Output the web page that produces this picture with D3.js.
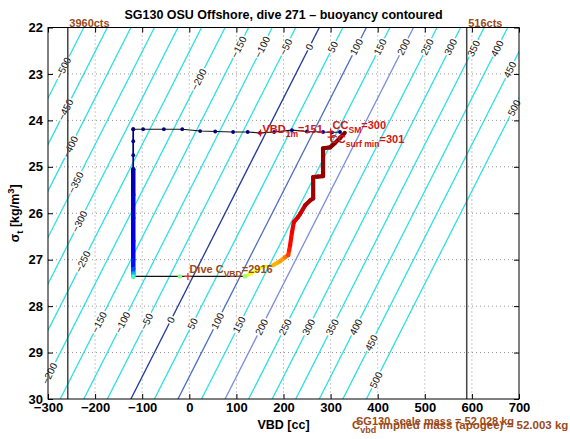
<!DOCTYPE html>
<html><head><meta charset="utf-8">
<script src="https://cdn.jsdelivr.net/npm/d3@7"></script>
<style>
body{margin:0;background:#fff;}
svg{display:block;}
text{font-family:"Liberation Sans",Arial,Helvetica,sans-serif;}
</style>
</head><body>
<svg id="c" width="570" height="439"></svg>
<script>
// ---------------- data ----------------
const vbdTicks = [-300,-200,-100,0,100,200,300,400,500,600,700];
const sigmaTicks = [22,23,24,25,26,27,28,29,30];
const contourLevels = [-500,-450,-400,-350,-300,-250,-200,-150,-100,-50,0,50,100,150,200,250,300,350,400,450,500];
const highlightLevels = [0,100,200];
// buoyancy contour model: VBD on contour b at sigma s = b + contourOffset - contourSlope*(s-22)
const contourOffset = 276;
const contourSlope = 50;
// contour label placement (level, sigma)
const labelLevels = [-150,-100,-50,0,50,100,150,200,250,300,350,400,
                     -500,-450,-400,-350,-300,-250,-200,450,500,
                     -150,-100,-50,0,50,100,150,200,250,300,350,400,450,500,-200];
const labelSigmas = [22.42,22.42,22.42,22.42,22.42,22.42,22.42,22.42,22.42,22.42,22.45,22.45,
                     22.87,23.77,24.57,25.34,26.18,27.04,23.12,22.91,23.73,
                     28.35,28.35,28.33,28.3,28.38,28.32,28.4,28.45,28.45,28.45,28.45,28.45,28.79,29.59,29.45];
// VBD limit lines
const limitVBD = [-258, 589];
const limitLabels = ["3960cts","516cts"];
// surface bleed segment (navy dots)
const surfVBD   = [320,303,284,250,218,180,150,124,93,55,23,-15,-54,-98,-119];
const surfSigma = [24.25,24.26,24.25,24.24,24.21,24.25,24.27,24.25,24.25,24.24,24.23,24.19,24.19,24.19,24.19];
// descent at constant VBD
const descVBD   = [-119,-119,-119,-119,-119,-119,-119,-119,-119,-119,-119];
const descSigma = [24.19,24.45,24.75,25.05,25.6,26.1,26.6,27.0,27.2,27.3,27.36];
const descT     = [0.0,0.01,0.02,0.03,0.05,0.08,0.1,0.12,0.14,0.2,0.3];
// apogee pump
const apoVBD   = [-119,-20,118];
const apoSigma = [27.36,27.36,27.36];
const apoT     = [0.45,0.5,0.52];
// ascent
const ascVBD   = [118,133,150,163,178,193,203,210,212,214,218,222,231,235,246,257,263,263,273,284,284,299,309,320,330];
const ascSigma = [27.36,27.29,27.18,27.14,27.12,27.03,26.95,26.90,26.80,26.69,26.41,26.19,26.08,26.02,25.83,25.72,25.68,25.22,25.21,25.20,24.60,24.58,24.49,24.38,24.27];
const ascT     = [0.6,0.62,0.64,null,0.7,0.72,0.76,0.82,0.85,0.87,0.89,0.9,0.92,0.93,0.95,0.96,0.97,0.97,0.98,0.98,0.99,0.99,1.0,1.0,1.0];
// markers and annotations
const markVBD   = [151,300,301,-3];
const markSigma = [24.27,24.25,24.36,27.36];
const annVBD    = [152,301,295,-3];
const annSigma  = [24.27,24.19,24.49,27.29];
const annMain   = ["VBD","CC","CC","Dive C"];
const annSub    = ["1m","SM","surf min","VBD"];
const annTail   = ["=151","=300","=301","=2916"];
const annKind   = ["red","red","red","brown"];
const titleText = "SG130 OSU Offshore, dive 271 \u2013 buoyancy contoured";
const massLine1 = "SG130 scale mass = 52.028 kg";
const massLine2Main = "C", massLine2Sub = "vbd", massLine2Tail = " implied mass (apogee) = 52.003 kg";

// ---------------- layout ----------------
const W = 570, H = 439;
const L = 48, R = 519, T = 27.5, B = 399;
const svg = d3.select("#c");
const x = d3.scaleLinear().domain([-300,700]).range([L,R]);
const y = d3.scaleLinear().domain([22,30]).range([T,B]);
const RED = "#d01515", BROWN = "#9a4a1a";
const jet = t => {
  const c = v => Math.max(0, Math.min(1, v));
  return d3.rgb(255*c(1.5-Math.abs(4*t-3)), 255*c(1.5-Math.abs(4*t-2)), 255*c(1.5-Math.abs(4*t-1))).toString();
};

svg.append("defs").append("clipPath").attr("id","clip")
  .append("rect").attr("x",L).attr("y",T).attr("width",R-L).attr("height",B-T);

// grid
const grid = svg.append("g");
grid.selectAll("line.gx").data(vbdTicks.slice(1,-1)).join("line")
  .attr("x1",d=>x(d)).attr("x2",d=>x(d)).attr("y1",T).attr("y2",B)
  .attr("stroke","#777").attr("stroke-width",0.8).attr("stroke-dasharray","1,3");
grid.selectAll("line.gy").data(sigmaTicks.slice(1,-1)).join("line")
  .attr("y1",d=>y(d)).attr("y2",d=>y(d)).attr("x1",L).attr("x2",R)
  .attr("stroke","#777").attr("stroke-width",0.8).attr("stroke-dasharray","1,3");

// contours
const vbdOn = (b,s) => b + contourOffset - contourSlope*(s-22);
const hiColor = d3.scaleOrdinal().domain(highlightLevels).range(["#1f3b9b","#4a6cc8","#7b8edb"]);
const cg = svg.append("g").attr("clip-path","url(#clip)");
cg.selectAll("line").data(contourLevels).join("line")
  .attr("x1",b=>x(vbdOn(b,21))).attr("y1",y(21))
  .attr("x2",b=>x(vbdOn(b,31))).attr("y2",y(31))
  .attr("stroke",b=>highlightLevels.includes(b)?hiColor(b):"#2fe0e0")
  .attr("stroke-width",1.3);

// contour labels
const ang = Math.atan2(y(23)-y(22), x(vbdOn(0,23))-x(vbdOn(0,22)))*180/Math.PI;
const rot = ang - 180;
const lg = svg.append("g");
labelLevels.forEach((b,i)=>{
  const s = labelSigmas[i];
  const g = lg.append("g").attr("transform",`translate(${x(vbdOn(b,s))},${y(s)}) rotate(${rot})`);
  const rect = g.append("rect").attr("fill","#fff");
  const t = g.append("text").attr("text-anchor","middle").attr("dy","0.35em")
    .attr("font-size",10).attr("fill","#111").text(b<0?"\u2212"+Math.abs(b):String(b));
  const bb = t.node().getBBox();
  rect.attr("x",bb.x-1).attr("y",bb.y+1).attr("width",bb.width+2).attr("height",bb.height-2);
});

// VBD limit lines
svg.selectAll("line.lim").data(limitVBD).join("line")
  .attr("x1",d=>x(d)).attr("x2",d=>x(d)).attr("y1",T).attr("y2",B)
  .attr("stroke","#444").attr("stroke-width",1.5);
svg.selectAll("text.lim").data(limitVBD).join("text")
  .attr("x",d=>x(d)+1.5).attr("y",T-1).attr("font-size",11).attr("font-weight","bold")
  .attr("fill",BROWN).text((d,i)=>limitLabels[i]);

// data path
const pg = svg.append("g").attr("clip-path","url(#clip)");
const line = d3.line().x(d=>x(d[0])).y(d=>y(d[1]));
const surfPts = surfVBD.map((v,i)=>[v,surfSigma[i]]);
const descPts = descVBD.map((v,i)=>[v,descSigma[i]]);
const apoPts = apoVBD.map((v,i)=>[v,apoSigma[i]]);
const ascPts = ascVBD.map((v,i)=>[v,ascSigma[i]]);
pg.append("path").attr("d",line(surfPts.concat(descPts,apoPts,ascPts)))
  .attr("fill","none").attr("stroke","#111").attr("stroke-width",1.1);
descPts.slice(0,-1).forEach((p,i)=>{
  const q = descPts[i+1];
  pg.append("line").attr("x1",x(p[0])).attr("y1",y(p[1])).attr("x2",x(q[0])).attr("y2",y(q[1]))
    .attr("stroke",jet(descT[i+1])).attr("stroke-width",p[1]>=25.0?4.5:1.6).attr("stroke-linecap","round");
});
ascPts.slice(0,-1).forEach((p,i)=>{
  if (ascT[i]===null) return;
  const q = ascPts[i+1];
  pg.append("line").attr("x1",x(p[0])).attr("y1",y(p[1])).attr("x2",x(q[0])).attr("y2",y(q[1]))
    .attr("stroke",jet(ascT[i])).attr("stroke-width",ascT[i]<0.66?3:4.2).attr("stroke-linecap","round");
});
pg.selectAll("circle.s").data(surfPts).join("circle")
  .attr("cx",d=>x(d[0])).attr("cy",d=>y(d[1])).attr("r",1.9).attr("fill",jet(0));
pg.selectAll("circle.d").data(descPts.slice(0,4)).join("circle")
  .attr("cx",d=>x(d[0])).attr("cy",d=>y(d[1])).attr("r",1.9).attr("fill",(d,i)=>jet(descT[i]));
pg.selectAll("circle.a").data(apoPts).join("circle")
  .attr("cx",d=>x(d[0])).attr("cy",d=>y(d[1])).attr("r",2.2).attr("fill",(d,i)=>jet(apoT[i]));

// markers
markVBD.forEach((v,i)=>{
  const cx = x(v), cy = y(markSigma[i]);
  const col = annKind[i]==="red"?RED:"#e03030";
  svg.append("path").attr("d",`M${cx-3.5},${cy}H${cx+3.5}M${cx},${cy-3.5}V${cy+3.5}`)
    .attr("stroke",col).attr("stroke-width",1.3);
});
function rich(xp, yp, main, sub, tail, col, fs){
  const t = svg.append("text").attr("x",xp).attr("y",yp).attr("font-size",fs)
    .attr("font-weight","bold").attr("fill",col);
  t.append("tspan").text(main);
  t.append("tspan").attr("dy",fs*0.35).attr("font-size",fs*0.78).text(sub);
  t.append("tspan").attr("dy",-fs*0.35).text(tail);
  return t;
}
annVBD.forEach((v,i)=>{
  rich(x(v)+1.5, y(annSigma[i]), annMain[i], annSub[i], annTail[i], annKind[i]==="red"?RED:BROWN, 11);
});

// axes (inward ticks)
const fmt = d => d<0 ? "\u2212"+Math.abs(d) : String(d);
const ax = svg.append("g").attr("transform",`translate(0,${B})`)
  .call(d3.axisBottom(x).tickValues(vbdTicks).tickSizeInner(-5).tickSizeOuter(0).tickPadding(4).tickFormat(fmt));
const axT = svg.append("g").attr("transform",`translate(0,${T})`)
  .call(d3.axisTop(x).tickValues(vbdTicks).tickSizeInner(-5).tickSizeOuter(0).tickFormat(""));
const ay = svg.append("g").attr("transform",`translate(${L},0)`)
  .call(d3.axisLeft(y).tickValues(sigmaTicks).tickSizeInner(-5).tickSizeOuter(0).tickPadding(5));
const ayR = svg.append("g").attr("transform",`translate(${R},0)`)
  .call(d3.axisRight(y).tickValues(sigmaTicks).tickSizeInner(-5).tickSizeOuter(0).tickFormat(""));
[ax,axT,ay,ayR].forEach(g=>{
  g.select(".domain").remove();
  g.selectAll(".tick line").attr("stroke","#000");
  g.selectAll("text").attr("font-size",13).attr("font-weight","bold").attr("fill","#000")
    .attr("font-family",'"Liberation Sans",Arial,sans-serif');
});
svg.append("rect").attr("x",L).attr("y",T).attr("width",R-L).attr("height",B-T)
  .attr("fill","none").attr("stroke","#000").attr("stroke-width",1);

// titles
svg.append("text").attr("x",(L+R)/2).attr("y",18.5).attr("text-anchor","middle")
  .attr("font-size",12.5).attr("font-weight","bold").text(titleText);
svg.append("text").attr("x",(L+R)/2).attr("y",429).attr("text-anchor","middle")
  .attr("font-size",12.5).attr("font-weight","bold").text("VBD [cc]");
const yl = svg.append("text").attr("transform",`translate(19,${(T+B)/2}) rotate(-90)`)
  .attr("text-anchor","middle").attr("font-size",12.5).attr("font-weight","bold");
yl.append("tspan").text("\u03c3");
yl.append("tspan").attr("dy",4).attr("font-size",9.5).text("t");
yl.append("tspan").attr("dy",-4).text(" [kg/m");
yl.append("tspan").attr("dy",-5).attr("font-size",9.5).text("3");
yl.append("tspan").attr("dy",5).text("]");

// mass texts (overlapping, as in source)
svg.append("text").attr("x",356).attr("y",425).attr("font-size",11).attr("font-weight","bold")
  .attr("fill",BROWN).text(massLine1);
rich(352, 429, massLine2Main, massLine2Sub, massLine2Tail, BROWN, 11.5);
</script>
</body></html>
